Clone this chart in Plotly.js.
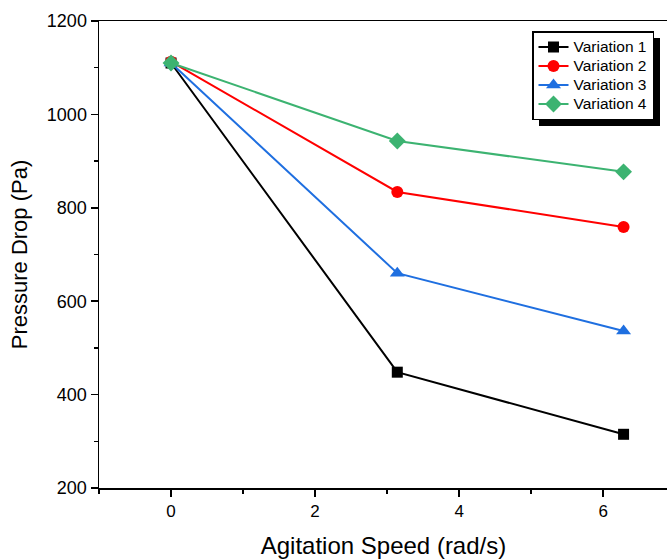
<!DOCTYPE html>
<html>
<head>
<meta charset="utf-8">
<script src="https://cdn.plot.ly/plotly-3.0.1.min.js"></script>
<style>
html,body{margin:0;padding:0;overflow:hidden;background:#fff;}
#chart{width:690px;height:559px;}
</style>
</head>
<body>
<div id="chart"></div>
<script>
const speeds = [0, 3.14159, 6.28319];
const variation1 = [1110, 448, 315];
const variation2 = [1113, 834, 759];
const variation3 = [1110, 660, 536];
const variation4 = [1110, 943, 877];
const seriesNames = ["Variation 1", "Variation 2", "Variation 3", "Variation 4"];
const seriesColors = ["#000000", "#FF0000", "#1F6FE0", "#3CB371"];
const seriesSymbols = ["square", "circle", "triangle-up", "diamond"];
const seriesSizes = [11, 12, 13, 13];
const allValues = [variation1, variation2, variation3, variation4];

const traces = allValues.map((vals, i) => ({
  x: speeds,
  y: vals,
  type: "scatter",
  mode: "lines+markers",
  name: '<span style="font-size:15.5px">' + seriesNames[i] + '</span>',
  line: {color: seriesColors[i], width: 2},
  marker: {symbol: seriesSymbols[i], size: seriesSizes[i], color: seriesColors[i]}
}));

const W = 690, H = 559;
const ml = 99, mr = 22, mt = 21, mb = 71;
const pw = W - ml - mr, ph = H - mt - mb;
function px(x){return (x - ml)/pw;}
function py(y){return 1 - (y - mt)/ph;}

const layout = {
  width: W, height: H,
  margin: {l: ml, r: mr, t: mt, b: mb, pad: 0},
  paper_bgcolor: "#fff", plot_bgcolor: "#fff",
  font: {family: "Liberation Sans, Arial, sans-serif", color: "#000"},
  showlegend: true,
  legend: {
    x: px(532), y: py(31), xanchor: "left", yanchor: "top",
    bgcolor: "#fff", bordercolor: "#000", borderwidth: 1.5,
    font: {size: 12.1, family: "Liberation Sans, Arial, sans-serif", color: "#000"},
    tracegroupgap: 0, itemwidth: 30
  },
  shapes: [{
    type: "rect", xref: "paper", yref: "paper",
    x0: px(539), x1: px(660), y0: py(38), y1: py(126),
    fillcolor: "#000", line: {width: 0}, layer: "above"
  }],
  xaxis: {
    range: [-1, 6.9],
    showgrid: false, zeroline: false,
    showline: true, linecolor: "#000", linewidth: 1.5, mirror: true,
    ticks: "outside", ticklen: 7, tickwidth: 1.5, tickcolor: "#000",
    tick0: 0, dtick: 2,
    minor: {ticks: "outside", ticklen: 4, tickwidth: 1.5, tickcolor: "#000", dtick: 1, tick0: -1, showgrid: false},
    tickfont: {size: 17},
    title: {text: "Agitation Speed (rad/s)", font: {size: 24}, standoff: 17}
  },
  yaxis: {
    range: [200, 1200],
    showgrid: false, zeroline: false,
    showline: true, linecolor: "#000", linewidth: 1.5, mirror: true,
    ticks: "outside", ticklen: 7, tickwidth: 1.5, tickcolor: "#000",
    tick0: 200, dtick: 200,
    minor: {ticks: "outside", ticklen: 4, tickwidth: 1.5, tickcolor: "#000", dtick: 100, showgrid: false},
    tickfont: {size: 18},
    title: {text: "Pressure Drop (Pa)", font: {size: 22}, standoff: 13}
  }
};

Plotly.newPlot("chart", traces, layout, {displayModeBar: false, staticPlot: true});
</script>
</body>
</html>
